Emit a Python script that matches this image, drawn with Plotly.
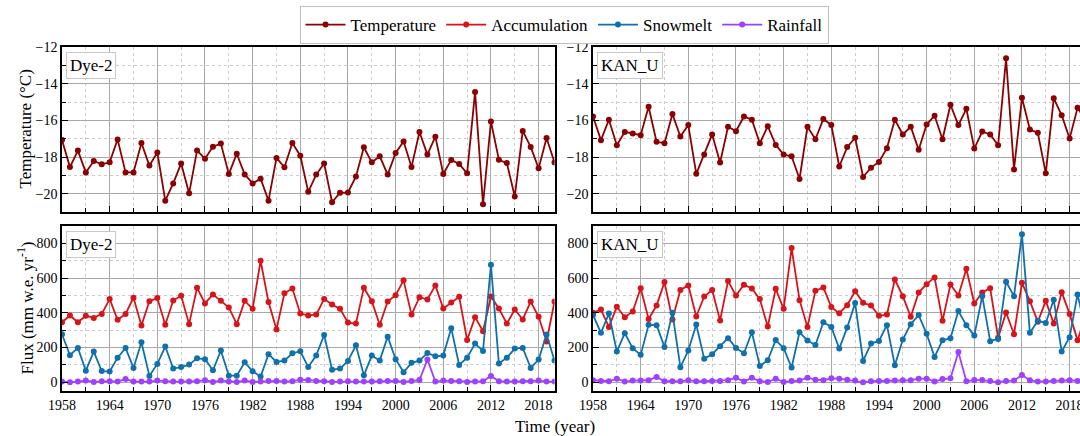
import plotly.graph_objects as go

years = list(range(1958, 2021))

dye_temp = [-17.07, -18.55, -17.65, -18.84, -18.22, -18.40, -18.29, -17.04, -18.84, -18.84,
            -17.24, -18.47, -17.75, -20.38, -19.44, -18.35, -19.98, -17.65, -18.09, -17.44,
            -17.27, -18.93, -17.82, -18.95, -19.44, -19.18, -20.38, -18.05, -18.56, -17.24,
            -17.93, -19.90, -18.96, -18.35, -20.47, -19.95, -19.93, -19.07, -17.47, -18.29,
            -17.96, -18.96, -17.78, -17.16, -18.55, -16.64, -17.87, -16.89, -18.93, -18.16,
            -18.38, -18.89, -14.45, -20.58, -16.07, -18.15, -18.33, -20.15, -16.58, -17.45,
            -18.62, -16.96, -18.30]

kan_temp = [-15.79, -17.08, -15.97, -17.36, -16.63, -16.72, -16.81, -15.26, -17.17, -17.25,
            -15.66, -16.88, -16.26, -18.92, -17.87, -16.77, -18.30, -16.35, -16.59, -15.79,
            -15.97, -17.25, -16.32, -17.34, -17.87, -17.96, -19.20, -16.35, -17.03, -15.93,
            -16.26, -18.52, -17.46, -16.95, -19.09, -18.58, -18.27, -17.52, -15.97, -16.77,
            -16.35, -17.61, -16.23, -15.75, -17.03, -15.15, -16.26, -15.37, -17.54, -16.61,
            -16.77, -17.36, -12.62, -18.68, -14.77, -16.50, -16.68, -18.89, -14.80, -15.72,
            -16.99, -15.32, -16.00]

dye_accum = [346, 385, 346, 383, 371, 394, 479, 360, 394, 487,
             327, 467, 485, 331, 471, 498, 335, 544, 454, 506,
             469, 431, 335, 469, 423, 700, 462, 304, 513, 540,
             396, 385, 390, 479, 448, 423, 344, 338, 544, 467,
             331, 465, 502, 587, 390, 490, 477, 558, 425, 460,
             492, 244, 375, 294, 494, 425, 338, 419, 362, 465,
             377, 235, 465]

dye_melt = [277, 156, 198, 67, 177, 65, 62, 142, 198, 83,
            231, 37, 106, 206, 79, 88, 102, 138, 133, 69,
            183, 38, 38, 115, 63, 33, 162, 117, 125, 167,
            179, 88, 154, 273, 73, 79, 123, 213, 40, 154,
            125, 263, 133, 58, 112, 125, 169, 150, 154, 312,
            100, 142, 223, 181, 677, 108, 142, 194, 198, 83,
            131, 275, 125]

dye_rain = [4, 0, 4, 10, 2, 6, 6, 4, 19, 4,
            4, 4, 10, 6, 4, 4, 4, 6, 12, 2,
            10, 4, 2, 10, 2, 4, 8, 8, 4, 6,
            15, 13, 8, 6, 2, 4, 6, 4, 4, 4,
            6, 8, 8, 2, 8, 13, 131, 4, 10, 8,
            6, 2, 4, 6, 37, 6, 4, 4, 6, 6,
            10, 4, 4]

kan_accum = [400, 419, 319, 435, 375, 408, 542, 365, 442, 577,
             362, 532, 558, 379, 494, 531, 356, 583, 500, 562,
             540, 479, 321, 538, 423, 773, 473, 319, 527, 546,
             433, 398, 444, 525, 458, 442, 383, 390, 592, 496,
             377, 517, 565, 604, 354, 563, 500, 654, 454, 517,
             542, 256, 402, 277, 573, 467, 348, 469, 338, 519,
             394, 242, 380]

kan_melt = [388, 285, 396, 177, 283, 196, 158, 331, 329, 204,
            400, 87, 183, 333, 135, 162, 208, 254, 198, 167,
            288, 94, 127, 243, 196, 85, 288, 241, 215, 346,
            319, 194, 315, 456, 123, 223, 238, 329, 98, 246,
            335, 387, 279, 146, 242, 254, 410, 329, 269, 496,
            237, 250, 579, 496, 852, 285, 354, 342, 475, 177,
            260, 506, 300]

kan_rain = [12, 8, 6, 21, 4, 10, 10, 12, 31, 6,
            6, 6, 12, 6, 6, 8, 8, 12, 27, 4,
            27, 6, 2, 21, 2, 8, 10, 27, 15, 12,
            23, 21, 15, 10, 0, 6, 8, 8, 10, 12,
            12, 21, 21, 4, 19, 23, 175, 6, 13, 13,
            8, 0, 8, 10, 42, 12, 4, 4, 8, 10,
            12, 8, 8]

station_names = ["Dye-2", "KAN_U"]
series_names = ["Temperature", "Accumulation", "Snowmelt", "Rainfall"]
colors = {"Temperature": "#8B0000", "Accumulation": "#D7141A",
          "Snowmelt": "#1070AC", "Rainfall": "#A040FF"}

W, H = 1080, 436
FONT = "Liberation Serif"

fig = go.Figure()

def add(x, y, name, xa, ya, show):
    fig.add_trace(go.Scatter(
        x=x, y=y, name=name, mode="lines+markers",
        line=dict(color=colors[name], width=1.8),
        marker=dict(color=colors[name], size=6),
        xaxis=xa, yaxis=ya, showlegend=show,
        legendrank=series_names.index(name) + 1))

add(years, dye_temp, "Temperature", "x", "y", True)
add(years, kan_temp, "Temperature", "x2", "y2", False)
add(years, dye_accum, "Accumulation", "x3", "y3", True)
add(years, dye_melt, "Snowmelt", "x3", "y3", True)
add(years, dye_rain, "Rainfall", "x3", "y3", True)
add(years, kan_accum, "Accumulation", "x4", "y4", False)
add(years, kan_melt, "Snowmelt", "x4", "y4", False)
add(years, kan_rain, "Rainfall", "x4", "y4", False)

# pixel-based domains
left_dom = [62 / W, 554.5 / W]
right_dom = [593 / W, 1.0]
px_per_year = (554.5 - 62) / 62.0
right_end = 1958 + (W - 593) / px_per_year
top_dom = [1 - 212 / H, 1 - 47 / H]
bot_dom = [1 - 391 / H, 1 - 226 / H]

tickfont = dict(family=FONT, size=14, color="black")
common = dict(showline=True, linecolor="black", linewidth=1.5, mirror=True,
              ticks="inside", ticklen=6, tickcolor="black", tickwidth=1,
              showgrid=True, gridcolor="#a8a8a8", gridwidth=1, zeroline=False,
              tickfont=tickfont, automargin=False, ticklabeloverflow="allow",
              minor=dict(ticks="inside", ticklen=4, tickcolor="black",
                         showgrid=True, gridcolor="#cccccc", griddash="dot", gridwidth=1))

def xax(dom, rng, anchor, labels):
    d = dict(common)
    d.update(domain=dom, range=rng, anchor=anchor, tick0=1958, dtick=6,
             showticklabels=labels)
    d["minor"] = dict(common["minor"], dtick=3, tick0=1958)
    return d

def yax_t(dom, anchor):
    d = dict(common)
    d.update(domain=dom, range=[-21, -12], anchor=anchor, tick0=-20, dtick=2)
    d["minor"] = dict(common["minor"], dtick=1, tick0=-21)
    return d

def yax_f(dom, anchor):
    d = dict(common)
    d.update(domain=dom, range=[-50, 900], anchor=anchor, tick0=0, dtick=200)
    d["minor"] = dict(common["minor"], dtick=100, tick0=0)
    return d

fig.update_layout(
    width=W, height=H,
    margin=dict(l=0, r=0, t=0, b=0),
    paper_bgcolor="white", plot_bgcolor="white",
    font=dict(family=FONT, color="black"),
    xaxis=xax(left_dom, [1958, 2020], "y", False),
    xaxis2=xax(right_dom, [1958, right_end], "y2", False),
    xaxis3=xax(left_dom, [1958, 2020], "y3", True),
    xaxis4=xax(right_dom, [1958, right_end], "y4", True),
    yaxis=yax_t(top_dom, "x"),
    yaxis2=yax_t(top_dom, "x2"),
    yaxis3=yax_f(bot_dom, "x3"),
    yaxis4=yax_f(bot_dom, "x4"),
    legend=dict(orientation="h", x=564 / W, xanchor="center", y=1 - 6 / H, yanchor="top",
                bordercolor="#c0c0c0", borderwidth=1, bgcolor="white",
                font=dict(family=FONT, size=17, color="black"),
                itemwidth=40, tracegroupgap=0),
)

# y-axis titles
fig.add_annotation(text="Temperature (°C)", xref="paper", yref="paper",
                   x=25 / W, y=1 - 129.5 / H, xanchor="center", yanchor="middle",
                   textangle=-90, showarrow=False,
                   font=dict(family=FONT, size=17, color="black"))
fig.add_annotation(text="Flux (mm w.e. yr<sup>-1</sup>)", xref="paper", yref="paper",
                   x=25 / W, y=1 - 308.5 / H, xanchor="center", yanchor="middle",
                   textangle=-90, showarrow=False,
                   font=dict(family=FONT, size=17, color="black"))

# panel labels
for xa, ya, name in [("x", "y", station_names[0]), ("x2", "y2", station_names[1]),
                     ("x3", "y3", station_names[0]), ("x4", "y4", station_names[1])]:
    fig.add_annotation(text=name, xref=f"{xa} domain", yref=f"{ya} domain",
                       x=0.009, y=0.97, xanchor="left", yanchor="top", showarrow=False,
                       font=dict(family=FONT, size=17, color="black"),
                       bgcolor="white", bordercolor="#c8c8c8", borderwidth=1, borderpad=3)

fig.add_annotation(text="Time (year)", xref="paper", yref="paper",
                   x=555 / W, y=(H - 426) / H, xanchor="center", yanchor="middle",
                   showarrow=False, font=dict(family=FONT, size=17, color="black"))

fig.write_html("out.html")
